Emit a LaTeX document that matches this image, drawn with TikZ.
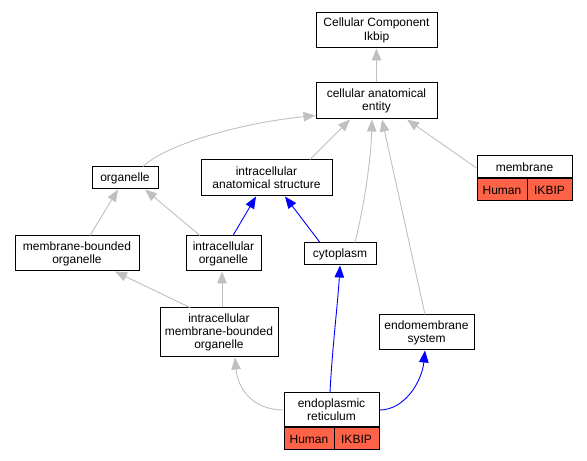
\documentclass[tikz,border=0pt]{standalone}
\usepackage{fontspec}
\setmainfont{Liberation Sans}
\usetikzlibrary{positioning, calc, arrows.meta}
\definecolor{edgegray}{RGB}{192,192,192}
\definecolor{tomato}{RGB}{255,99,71}

\begin{document}
\begin{tikzpicture}[x=1pt,y=1pt,
    term/.style={draw, line width=1pt, align=center, inner sep=0pt, font=\fontsize{12}{13.2}\selectfont},
    cell/.style={term, fill=tomato, minimum height=22pt},
    isa/.style={draw=edgegray, line width=0.9pt, -{Triangle[length=12pt,width=9.5pt]}},
    partof/.style={isa, draw=blue}]
      \useasboundingbox (0,0) rectangle (587,461);
      % terms
      \node[term, minimum width=121pt, minimum height=35pt] (root) at (376.5,430.5) {Cellular Component\\Ikbip};
      \node[term, minimum width=121pt, minimum height=36pt] (cae) at (376.5,360) {cellular anatomical\\entity};
      \node[term, minimum width=66pt, minimum height=22pt] (org) at (125,283) {organelle};
      \node[term, minimum width=131pt, minimum height=36pt] (ias) at (266.5,283) {intracellular\\anatomical structure};
      \node[term, minimum width=95pt, minimum height=22pt] (mem) at (524.5,294) {membrane};
      \node[cell, minimum width=50pt, anchor=north west] (memh) at (mem.south west) {Human};
      \node[cell, minimum width=45pt, anchor=north east] (memg) at (mem.south east) {IKBIP};
      \node[term, minimum width=124pt, minimum height=35pt] (mbo) at (77,207.5) {membrane-bounded\\organelle};
      \node[term, minimum width=75pt, minimum height=35pt] (io) at (223.5,207.5) {intracellular\\organelle};
      \node[term, minimum width=72pt, minimum height=22pt] (cyt) at (340,207) {cytoplasm};
      \node[term, minimum width=118pt, minimum height=49pt] (imbo) at (219,128.5) {intracellular\\membrane-bounded\\organelle};
      \node[term, minimum width=95pt, minimum height=35pt] (ems) at (426.5,128.5) {endomembrane\\system};
      \node[term, minimum width=95pt, minimum height=34pt] (er) at (331.5,51) {endoplasmic\\reticulum};
      \node[cell, minimum width=50pt, anchor=north west] (erh) at (er.south west) {Human};
      \node[cell, minimum width=45pt, anchor=north east] (erg) at (er.south east) {IKBIP};
      % is_a edges
      \draw[isa] (cae) -- (root);
      \draw[isa] ($(org.north)+(18,0)$) .. controls (165,316) and (240,338) .. ($(cae.south west)+(0,4)$);
      \draw[isa] ($(ias.north)+(43.5,0)$) -- ($(cae.south)+(-26.5,0)$);
      \draw[isa] ($(cyt.north)+(15,0)$) .. controls (363,250) and (371,300) .. ($(cae.south)+(-4.5,0)$);
      \draw[isa] ($(ems.north)+(-1.5,0)$) -- ($(cae.south)+(5.5,0)$);
      \draw[isa] ($(mem.west)+(0,-1)$) -- ($(cae.south)+(30.5,0)$);
      \draw[isa] ($(mbo.north)+(13,0)$) -- ($(org.south)+(-7,0)$);
      \draw[isa] ($(io.north)+(-23.5,0)$) -- ($(org.south)+(20,0)$);
      \draw[isa] ($(imbo.north)+(-29,0)$) -- ($(mbo.south)+(38,0)$);
      \draw[isa] ($(imbo.north)+(3,0)$) -- ($(io.south)+(-1.5,0)$);
      \draw[isa] ($(er.west)+(0,0)$) .. controls (255,51) and (238,70) .. ($(imbo.south)+(16,0)$);
      % part_of edges
      \draw[partof] ($(io.north)+(9.5,0)$) -- ($(ias.south)+(-10.5,0)$);
      \draw[partof] ($(cyt.north)+(-20,0)$) -- ($(ias.south)+(18.5,0)$);
      \draw[partof] ($(er.north)+(-1.5,0)$) .. controls (332,110) and (338,160) .. (cyt.south);
      \draw[partof] (er.east) .. controls (405,51) and (422,80) .. ($(ems.south)+(-1.5,0)$);
\end{tikzpicture}
\end{document}
